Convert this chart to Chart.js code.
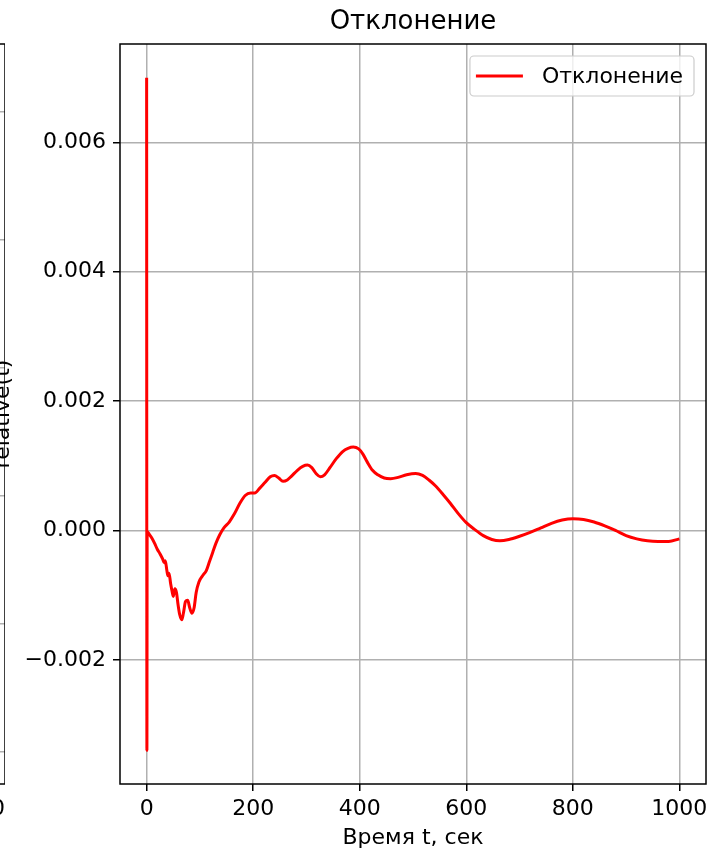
<!DOCTYPE html>
<html>
<head>
<meta charset="utf-8">
<script src="https://cdn.jsdelivr.net/npm/chart.js@4/dist/chart.umd.min.js"></script>
<style>
  html, body { margin: 0; padding: 0; background: #fff; overflow: hidden; width: 720px; height: 854px; }
  #wrapLeft { position: absolute; left: -715px; top: 0; width: 720px; height: 854px; }
  #wrapMain { position: absolute; left: 0; top: 0; width: 720px; height: 854px; }
  canvas { display: block; }
</style>
</head>
<body>
<div id="wrapLeft"><canvas id="leftPanel" width="720" height="854"></canvas></div>
<div id="wrapMain"><canvas id="mainPanel" width="720" height="854"></canvas></div>
<script>
// Time samples, seconds
const time = [
  0, 0.5, 1, 5, 10, 15, 20, 25, 30, 33, 35, 38, 40, 42, 45, 48, 50, 53, 56, 59,
  62, 66, 69, 73, 77, 81, 85, 89, 93, 98, 105, 112, 118, 124, 130, 137, 145, 155, 165, 175,
  185, 195, 203, 212, 222, 232, 240, 248, 256, 264, 272, 283, 293, 302, 310, 318, 326, 334, 344, 356,
  368, 378, 388, 398, 406, 414, 424, 434, 446, 458, 472, 488, 505, 518, 530, 542, 556, 570, 585, 600,
  615, 632, 648, 663, 680, 700, 720, 740, 760, 780, 800, 820, 840, 860, 880, 900, 920, 940, 960, 980, 1000
];
// Relative deviation at each sample
const deviation = [
  0.0070, -0.00340, -0.00002, -0.00006, -0.00012, -0.00020, -0.00029, -0.00036, -0.00044, -0.00050,
  -0.00047, -0.00062, -0.00070, -0.00066, -0.00082, -0.00095, -0.00102, -0.00090, -0.00096, -0.00115,
  -0.00130, -0.00138, -0.00128, -0.00110, -0.00108, -0.00120, -0.00128, -0.00120, -0.00096, -0.00080,
  -0.00070, -0.00062, -0.00048, -0.00034, -0.00020, -0.00007, 0.00004, 0.00013, 0.00026, 0.00042,
  0.00054, 0.00058, 0.00058, 0.00065, 0.00074, 0.00083, 0.00085, 0.00081, 0.00076, 0.00078,
  0.00084, 0.00093, 0.00099, 0.00101, 0.00097, 0.00088, 0.00083, 0.00086, 0.00097, 0.00111,
  0.00122, 0.00127, 0.00129, 0.00126, 0.00118, 0.00106, 0.00093, 0.00086, 0.00081, 0.00080,
  0.00082, 0.00086, 0.00088, 0.00085, 0.00078, 0.00069, 0.00056, 0.00042, 0.00026, 0.00012,
  0.00002, -0.00008, -0.00014, -0.00016, -0.00014, -0.00009, -0.00003, 0.00004, 0.00011, 0.00016,
  0.00018, 0.00017, 0.00013, 0.00007, 0.00000, -0.00008, -0.00013, -0.00016, -0.00017, -0.00017, -0.00013
];
const seriesName = 'Отклонение';
const xTicks = [0, 200, 400, 600, 800, 1000];
const yTicks = [-0.002, 0, 0.002, 0.004, 0.006];
// Neighbouring panel: only its right edge falls inside the page
const leftYTicks = [0, 1, 2, 3, 4, 5];

const FONT = "'DejaVu Sans', sans-serif";
Chart.defaults.font.family = FONT;
Chart.defaults.color = '#000';

const fmtY = v => (Math.abs(v) < 1e-12 ? '0.000' : v.toFixed(3)).replace('-', '\u2212');

// Black box around the plotting area
const frame = {
  id: 'frame',
  afterDatasetsDraw(chart) {
    const { ctx, chartArea: a } = chart;
    ctx.save();
    ctx.strokeStyle = '#000';
    ctx.lineWidth = 1.5;
    ctx.strokeRect(a.left, a.top, a.right - a.left, a.bottom - a.top);
    ctx.restore();
  }
};

// Legend box in the upper right corner of the plotting area
const legendBox = {
  id: 'legendBox',
  afterDraw(chart) {
    const { ctx, chartArea: a } = chart;
    const ds = chart.data.datasets[0];
    ctx.save();
    ctx.font = '22px ' + FONT;
    const tw = ctx.measureText(ds.label).width;
    const padL = 6, handle = 47, gap = 19, padR = 11, h = 40;
    const w = padL + handle + gap + tw + padR;
    const right = a.right - 12, top = a.top + 12, left = right - w;
    ctx.beginPath();
    ctx.roundRect(left, top, w, h, 4);
    ctx.fillStyle = 'rgba(255,255,255,0.8)';
    ctx.fill();
    ctx.strokeStyle = '#cccccc';
    ctx.lineWidth = 1.2;
    ctx.stroke();
    const cy = top + h / 2;
    ctx.beginPath();
    ctx.moveTo(left + padL, cy);
    ctx.lineTo(left + padL + handle, cy);
    ctx.strokeStyle = ds.borderColor;
    ctx.lineWidth = ds.borderWidth;
    ctx.stroke();
    ctx.fillStyle = '#000';
    ctx.textBaseline = 'middle';
    ctx.fillText(ds.label, left + padL + handle + gap, cy + 1);
    ctx.restore();
  }
};

const gridStyle = { color: '#b0b0b0', lineWidth: 1.5, tickColor: '#000', tickWidth: 1.5, tickLength: 7 };
const tickFont = { size: 22 };

new Chart(document.getElementById('leftPanel'), {
  type: 'line',
  data: { datasets: [] },
  options: {
    responsive: false, animation: false, events: [],
    layout: { padding: { left: 0, right: 0, top: 44, bottom: 0 } },
    plugins: { legend: { display: false }, tooltip: { enabled: false }, title: { display: false } },
    scales: {
      x: {
        type: 'linear', min: -50, max: 1050,
        afterBuildTicks: s => { s.ticks = xTicks.map(v => ({ value: v })); },
        afterFit: s => { s.height = 70; s.paddingLeft = 0; s.paddingRight = 0; },
        grid: gridStyle, border: { display: false },
        ticks: { font: tickFont, color: '#000', padding: 5, maxRotation: 0, callback: v => String(v) }
      },
      y: {
        type: 'linear', min: -0.25, max: 5.53,
        afterBuildTicks: s => { s.ticks = leftYTicks.map(v => ({ value: v })); },
        afterFit: s => { s.width = 104; s.paddingTop = 0; s.paddingBottom = 0; },
        grid: gridStyle, border: { display: false },
        ticks: { font: tickFont, color: '#000', padding: 7 }
      }
    }
  },
  plugins: [frame]
});

new Chart(document.getElementById('mainPanel'), {
  type: 'line',
  data: {
    datasets: [{
      label: seriesName,
      data: time.map((t, i) => ({ x: t, y: deviation[i] })),
      borderColor: '#ff0000',
      borderWidth: 3,
      pointRadius: 0,
      cubicInterpolationMode: 'monotone',
      fill: false
    }]
  },
  options: {
    responsive: false, animation: false, events: [],
    layout: { padding: { left: 0, right: 14, top: 0, bottom: 0 } },
    plugins: {
      legend: { display: false },
      tooltip: { enabled: false },
      title: {
        display: true, text: seriesName, fullSize: false, color: '#000',
        font: { size: 26, weight: 'normal' }, padding: { top: 7, bottom: 5.8 }
      }
    },
    scales: {
      x: {
        type: 'linear', min: -50, max: 1050,
        afterBuildTicks: s => { s.ticks = xTicks.map(v => ({ value: v })); },
        afterFit: s => { s.height = 70; },
        grid: gridStyle, border: { display: false },
        ticks: { font: tickFont, color: '#000', padding: 5, maxRotation: 0, callback: v => String(v) },
        title: { display: true, text: 'Время t, сек', color: '#000', font: { size: 22 }, padding: { top: 0, bottom: 3 } }
      },
      y: {
        type: 'linear', min: -0.00392, max: 0.00752,
        afterBuildTicks: s => { s.ticks = yTicks.map(v => ({ value: v })); },
        afterFit: s => { s.width = 120; },
        grid: gridStyle, border: { display: false },
        ticks: { font: tickFont, color: '#000', padding: 7, callback: v => fmtY(v) },
        title: { display: true, text: 'relative(t)', color: '#000', font: { size: 22 }, padding: { top: -10, bottom: 0 } }
      }
    }
  },
  plugins: [frame, legendBox]
});
</script>
</body>
</html>
